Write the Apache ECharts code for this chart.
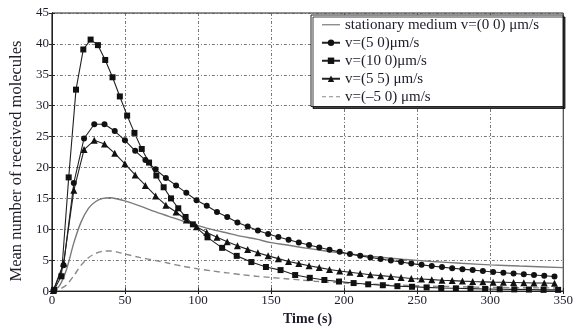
<!DOCTYPE html>
<html><head><meta charset="utf-8">
<script src="https://cdn.jsdelivr.net/npm/echarts@6/dist/echarts.min.js"></script>
<style>html,body{margin:0;padding:0;background:#fff}#c{width:576px;height:331px}</style>
</head><body><div id="c"></div>
<script>
// ---- data ----
const xTicks = [0, 50, 100, 150, 200, 250, 300, 350];
const yTicks = [0, 5, 10, 15, 20, 25, 30, 35, 40, 45];
const seriesNames = [
  'stationary medium v=(0 0) μm/s',
  'v=(5 0)μm/s',
  'v=(10 0)μm/s',
  'v=(5 5) μm/s',
  'v=(–5 0) μm/s'
];
// stationary medium (line only)
const tStat = [0,5,10,15,20,25,30,35,40,45,50,60,70,80,90,100,110,120,130,140,150,160,170,180,190,200,220,240,260,280,300,320,350];
const vStat = [0,0.8,3.5,7.8,11.2,13.4,14.5,15.0,15.1,14.9,14.6,13.8,12.9,12.1,11.3,10.6,9.95,9.4,8.85,8.4,7.85,7.5,7.1,6.75,6.4,6.1,5.6,5.15,4.8,4.5,4.25,4.05,3.8];
// v=(5 0) circles
const tCirc = [1,8,15,22,29,36,43,50,57,64,71,78,85,92,99,106,113,120,127,134,141,148,155,162,169,176,183,190,197,204,211,218,225,232,239,246,253,260,267,274,281,288,295,302,309,316,323,330,337,344];
const vCirc = [0.1,4.2,17.5,24.7,27.0,27.0,25.9,24.4,22.7,21.2,19.7,18.3,17.1,15.9,14.7,13.8,12.8,12.0,11.1,10.45,9.8,9.25,8.75,8.3,7.85,7.45,7.05,6.7,6.35,6.0,5.7,5.45,5.2,4.95,4.7,4.45,4.25,4.05,3.88,3.7,3.55,3.4,3.25,3.1,2.97,2.85,2.72,2.6,2.48,2.37];
// v=(10 0) squares
const tSq = [1.5,6.5,11.5,16.5,21.5,26.5,31.5,36.5,41.5,46.5,51.5,56.5,61.5,66.5,71.5,76.5,81.5,86.5,91.5,96.5,106.5,116.5,126.5,136.5,146.5,156.5,166.5,176.5,186.5,196.5,206.5,216.5,226.5,236.5,246.5,256.5,266.5,276.5,286.5,296.5,306.5,316.5,326.5,336.5,346.5];
const vSq = [0.2,2.4,18.4,32.6,39.1,40.7,39.8,37.4,34.6,31.5,28.4,25.6,23.0,20.8,18.7,16.8,15.0,13.4,12.0,10.8,8.7,7.0,5.7,4.7,3.9,3.4,2.6,2.15,1.8,1.55,1.3,1.1,0.95,0.8,0.7,0.6,0.5,0.45,0.4,0.35,0.3,0.28,0.25,0.2,0.2];
// v=(5 5) triangles
const tTri = tCirc;
const vTri = [0.1,4.5,16.3,22.9,24.4,23.8,22.3,20.6,18.8,17.1,15.4,13.9,12.8,11.5,10.4,9.5,8.7,8.0,7.35,6.75,6.2,5.7,5.25,4.8,4.45,4.1,3.8,3.5,3.25,3.05,2.85,2.65,2.5,2.35,2.2,2.05,1.95,1.85,1.75,1.7,1.62,1.55,1.5,1.45,1.42,1.38,1.35,1.32,1.3,1.28];
// v=(-5 0) dashed
const tNeg = [0,5,10,15,20,25,30,35,40,45,50,60,70,80,90,100,110,120,130,140,150,160,170,180,190,200,220,240,260,280,300,320,350];
const vNeg = [0,0.3,1.0,2.5,4.2,5.4,6.1,6.45,6.5,6.3,6.0,5.45,5.0,4.5,4.0,3.6,3.25,2.95,2.65,2.4,2.2,2.0,1.8,1.6,1.45,1.3,1.1,0.95,0.8,0.7,0.6,0.55,0.5];

const pairs = (t, v) => t.map((x, i) => [x, v[i]]);
const serif = '"Liberation Serif","DejaVu Serif",serif';
const txt = '#1c1c2a';

const chart = echarts.init(document.getElementById('c'), null, {renderer: 'canvas'});
const grid = {left: 44, right: 11, top: 13, bottom: 31, show: true, borderColor: '#222', borderWidth: 1};
const splitStyle = {show: true, lineStyle: {color: '#555', width: 0.8, type: [3, 2, 1, 2]}};

chart.setOption({
  animation: false,
  backgroundColor: '#fff',
  grid: grid,
  xAxis: [{
    type: 'value', min: xTicks[0], max: xTicks[xTicks.length - 1], interval: 50,
    name: 'Time (s)', nameLocation: 'middle', nameGap: 19,
    nameTextStyle: {fontFamily: serif, fontSize: 14, fontWeight: 'bold', color: txt},
    axisLine: {show: true, lineStyle: {color: '#222'}},
    axisTick: {show: true, inside: true, length: 3, lineStyle: {color: '#222'}},
    axisLabel: {fontFamily: serif, fontSize: 13, color: txt, margin: 3},
    splitLine: splitStyle
  }, {
    type: 'value', position: 'top', min: 0, max: 350, interval: 50,
    axisLine: {show: true, lineStyle: {color: '#222'}},
    axisTick: {show: true, inside: true, length: 3, lineStyle: {color: '#222'}},
    axisLabel: {show: false}, splitLine: {show: false}
  }],
  yAxis: [{
    type: 'value', min: yTicks[0], max: yTicks[yTicks.length - 1], interval: 5,
    name: 'Mean number of received molecules', nameLocation: 'middle', nameGap: 22,
    nameTextStyle: {fontFamily: serif, fontSize: 16.5, color: txt, padding: [0, 18, 0, 0]},
    axisLine: {show: true, lineStyle: {color: '#222'}},
    axisTick: {show: true, inside: true, length: 3, lineStyle: {color: '#222'}},
    axisLabel: {fontFamily: serif, fontSize: 13, color: txt, margin: 3},
    splitLine: splitStyle
  }, {
    type: 'value', position: 'right', min: 0, max: 45, interval: 5,
    axisLine: {show: true, lineStyle: {color: '#222'}},
    axisTick: {show: true, inside: true, length: 3, lineStyle: {color: '#222'}},
    axisLabel: {show: false}, splitLine: {show: false}
  }],
  legend: {
    orient: 'vertical', right: 13, top: 15,
    backgroundColor: '#fff', borderColor: '#222', borderWidth: 1,
    shadowColor: 'rgba(0,0,0,0.75)', shadowOffsetX: 2, shadowOffsetY: 2, shadowBlur: 0,
    padding: [2, 6, 2, 10], itemGap: 2.5, itemWidth: 18, itemHeight: 8,
    textStyle: {fontFamily: serif, fontSize: 15, lineHeight: 15.5, color: txt, width: 212},
    data: [
      {name: seriesNames[0], icon: 'path://M0,0h18v1.2h-18z'},
      {name: seriesNames[1]},
      {name: seriesNames[2]},
      {name: seriesNames[3]},
      {name: seriesNames[4], icon: 'path://M0,0h4v1.2h-4z M7,0h4v1.2h-4z M14,0h4v1.2h-4z'}
    ]
  },
  series: [
    {name: seriesNames[0], type: 'line', data: pairs(tStat, vStat), symbol: 'none', smooth: 0.3,
     lineStyle: {color: '#7a7a7a', width: 1.4}, itemStyle: {color: '#7a7a7a'}, z: 2},
    {name: seriesNames[1], type: 'line', data: pairs(tCirc, vCirc), symbol: 'circle', symbolSize: 6,
     lineStyle: {color: '#222', width: 1.1}, itemStyle: {color: '#111'}, z: 3},
    {name: seriesNames[2], type: 'line', data: pairs(tSq, vSq), symbol: 'rect', symbolSize: 6,
     lineStyle: {color: '#222', width: 1.1}, itemStyle: {color: '#111'}, z: 3},
    {name: seriesNames[3], type: 'line', data: pairs(tTri, vTri), symbol: 'triangle', symbolSize: 7,
     lineStyle: {color: '#222', width: 1.1}, itemStyle: {color: '#111'}, z: 3},
    {name: seriesNames[4], type: 'line', data: pairs(tNeg, vNeg), symbol: 'none', smooth: 0.3,
     lineStyle: {color: '#8a8a8a', width: 1.4, type: [6, 4]}, itemStyle: {color: '#8a8a8a'}, z: 2}
  ]
});
</script></body></html>
